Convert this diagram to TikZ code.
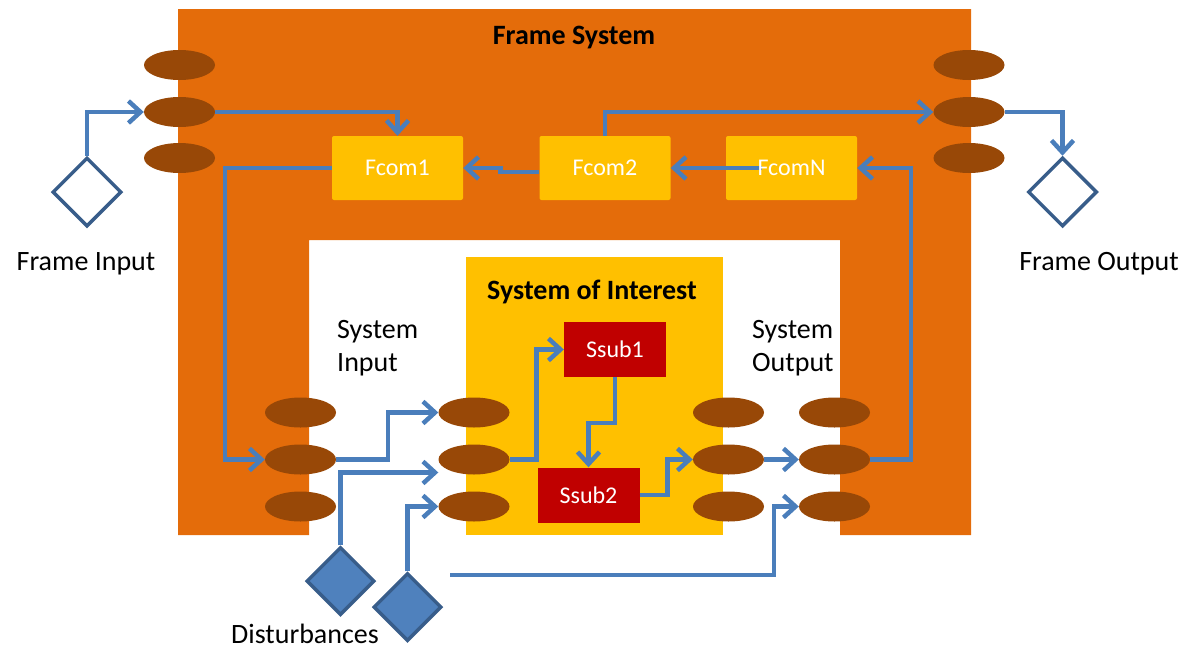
\documentclass[tikz,border=0pt]{standalone}
\usepackage{fontspec}
\setmainfont{Carlito}
\usetikzlibrary{arrows.meta,shapes.geometric,calc}

\definecolor{frameorange}{HTML}{E46C0A}
\definecolor{portbrown}{HTML}{984807}
\definecolor{comyellow}{HTML}{FFC000}
\definecolor{subred}{HTML}{C00000}
\definecolor{linkblue}{HTML}{4A7EBB}
\definecolor{edgeblue}{HTML}{385D8A}
\definecolor{fillblue}{HTML}{4F81BD}

\tikzset{
  port/.style={ellipse, fill=portbrown, minimum width=71pt, minimum height=30pt, inner sep=0pt},
  fcombox/.style={rectangle, fill=comyellow, rounded corners=2pt, minimum width=131pt,
    minimum height=64pt, inner sep=0pt, text=white, font=\fontsize{24}{28}\selectfont},
  subbox/.style={rectangle, fill=subred, minimum width=102pt, minimum height=55pt,
    inner sep=0pt, text=white, font=\fontsize{24}{28}\selectfont},
  conn/.style={draw=linkblue, line width=4.5pt,
    -{Straight Barb[length=12pt,width=22pt,line width=4.5pt]}},
  opendiamond/.style={diamond, draw=edgeblue, line width=3.5pt, fill=white,
    minimum width=69pt, minimum height=69pt, inner sep=0pt},
  fulldiamond/.style={diamond, draw=edgeblue, line width=3.5pt, fill=fillblue,
    minimum width=68pt, minimum height=68pt, inner sep=0pt},
  lbl/.style={font=\fontsize{28}{33}\selectfont, inner sep=0pt},
  title/.style={font=\fontsize{28}{33}\selectfont\bfseries, inner sep=0pt},
}

\begin{document}
\begin{tikzpicture}[x=1pt,y=-1pt]
\useasboundingbox (0,0) rectangle (1186,651);

% frame system: an orange block with the white well cut out of its lower middle
\fill[frameorange] (178,9) -- (971,9) -- (971,535) -- (840,535) -- (840,240)
  -- (309,240) -- (309,535) -- (178,535) -- cycle;
\node[title] (frametitle) at (574,38) {Frame System};

% system of interest
\node[rectangle, fill=comyellow, minimum width=257pt, minimum height=278pt, inner sep=0pt]
  (soi) at (594.5,396) {};
\node[title] (soititle) at (592,292) {System of Interest};

% frame components
\node[fcombox] (fcom1) at (397.5,168) {Fcom1};
\node[fcombox] (fcom2) at (605,168) {Fcom2};
\node[fcombox] (fcomN) at (791.5,168) {};

% subsystems
\node[subbox] (ssub1) at (615,349.5) {Ssub1};
\node[subbox] (ssub2) at (588.5,495) {Ssub2};

% ports
\foreach \n/\y in {1/65,2/112,3/158}{
  \node[port] (le\n) at (179.5,\y) {};
  \node[port] (re\n) at (969,\y) {};
}
\foreach \n/\y in {1/412.5,2/459.5,3/506.5}{
  \node[port] (li\n) at (300.5,\y) {};
  \node[port] (si\n) at (474,\y) {};
  \node[port] (so\n) at (728.5,\y) {};
  \node[port] (ri\n) at (834.5,\y) {};
}

% inputs, outputs and disturbances
\node[opendiamond] (fin) at (87,192) {};
\node[opendiamond] (fout) at (1062.5,192) {};
\node[fulldiamond] (dist1) at (340.5,581) {};
\node[fulldiamond] (dist2) at (407.5,607) {};
\coordinate (dstart) at (450,575);

% labels
\node[lbl] (finlbl) at (86,264) {Frame Input};
\node[lbl] (foutlbl) at (1099,264) {Frame Output};
\node[lbl, align=left, anchor=west] (sinlbl) at (337,348) {System\\Input};
\node[lbl, align=left, anchor=west] (soutlbl) at (752,348) {System\\Output};
\node[lbl] (distlbl) at (305,634) {Disturbances};

% connectors in the frame
\draw[conn] (fin.north) |- (le2.west);
\draw[conn] (le2.east) -| (fcom1.north);
\draw[conn] (fcom1.west) -| ($(li2.west)+(-40,0)$) -- (li2.west);
\draw[conn] ([yshift=-4pt]fcom2.west) -- ++(-39,0) |- (fcom1.east);
\draw[conn] ([xshift=36pt]fcomN.west) -- (fcom2.east);
\draw[conn] (fcom2.north) |- (re2.west);
\draw[conn] (re2.east) -| (fout.north);
\draw[conn] (ri2.east) -| ($(fcomN.east)+(54,0)$) -- (fcomN.east);
\node[text=white, font=\fontsize{24}{28}\selectfont, inner sep=0pt] (fcomNlbl) at (fcomN.center) {FcomN};

% connectors into and through the system of interest
\draw[conn] (li2.east) -- ++(52,0) |- (si1.west);
\draw[conn] (dist1.north) |- ([yshift=-13pt]si2.west);
\draw[conn] (dist2.north) |- (si3.west);
\draw[conn] (si2.east) -- ++(27,0) |- (ssub1.west);
\draw[conn] (ssub1.south) -- ++(0,46) -| (ssub2.north);
\draw[conn] (ssub2.east) -- ++(28,0) |- (so2.west);
\draw[conn] (so2.east) -- (ri2.west);
\draw[conn] (dstart) -| ($(ri3.west)+(-25,0)$) -- (ri3.west);
\end{tikzpicture}
\end{document}
